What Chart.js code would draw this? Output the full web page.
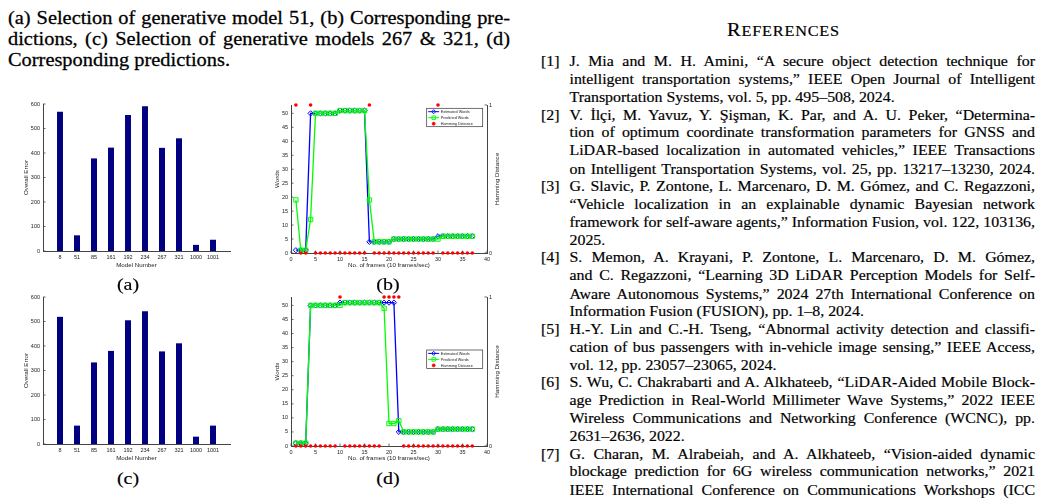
<!DOCTYPE html>
<html lang="en">
<head>
<meta charset="UTF-8">
<title>Generative model selection and predictions</title>
<script src="https://cdn.jsdelivr.net/npm/chart.js"></script>
<style>
  body {
    margin: 0;
    width: 1042px;
    height: 502px;
    position: relative;
    overflow: hidden;
    background: #fff;
    font-family: "Liberation Serif", "Times New Roman", serif;
    color: #000;
  }
  /* the page scan is a little squashed vertically */
  .sq {
    position: absolute;
    transform: scaleY(0.88);
    transform-origin: 0 0;
    font-family: "Liberation Serif", "Times New Roman", serif;
    -webkit-text-stroke: 0.2px #000;
  }
  .line { white-space: nowrap; }
  #caption { left: 8px; top: 8px; width: 502px; font-size: 20.4px; line-height: 23.75px; -webkit-text-stroke: 0.3px #000; }
  #refs { left: 541px; top: 52.7px; width: 494px; font-size: 15.9px; line-height: 20.28px; }
  #refs .line { position: relative; padding-left: 28.5px; }
  #refs .num { position: absolute; left: 0; }
  #heading { left: 683.5px; top: 19.4px; width: 200px; text-align: center; line-height: 24px; letter-spacing: 0.8px; }
  #heading .big { font-size: 20.4px; }
  #heading .small { font-size: 16.3px; }
  .panel { position: absolute; }
  .sub {
    position: absolute;
    font-family: "Liberation Serif", "Times New Roman", serif;
    font-size: 20px;
    line-height: 24px;
    -webkit-text-stroke: 0.2px #000;
    transform: translate(-50%, -50%) scaleY(0.88);
  }
</style>
</head>
<body>

<div id="caption" class="sq">
  <div class="line j"><span class="t">(a) Selection of generative model 51, (b) Corresponding pre-</span></div>
  <div class="line j"><span class="t">dictions, (c) Selection of generative models 267 &amp; 321, (d)</span></div>
  <div class="line"><span class="t">Corresponding predictions.</span></div>
</div>

<div id="heading" class="sq"><span class="big">R</span><span class="small">EFERENCES</span></div>

<div id="refs" class="sq">
  <div class="line j"><span class="num">[1]</span><span class="t">J. Mia and M. H. Amini, “A secure object detection technique for</span></div>
  <div class="line j"><span class="t">intelligent transportation systems,” IEEE Open Journal of Intelligent</span></div>
  <div class="line"><span class="t">Transportation Systems, vol. 5, pp. 495–508, 2024.</span></div>
  <div class="line j"><span class="num">[2]</span><span class="t">V. İlçi, M. Yavuz, Y. Şişman, K. Par, and A. U. Peker, “Determina-</span></div>
  <div class="line j"><span class="t">tion of optimum coordinate transformation parameters for GNSS and</span></div>
  <div class="line j"><span class="t">LiDAR-based localization in automated vehicles,” IEEE Transactions</span></div>
  <div class="line j"><span class="t">on Intelligent Transportation Systems, vol. 25, pp. 13217–13230, 2024.</span></div>
  <div class="line j"><span class="num">[3]</span><span class="t">G. Slavic, P. Zontone, L. Marcenaro, D. M. Gómez, and C. Regazzoni,</span></div>
  <div class="line j"><span class="t">“Vehicle localization in an explainable dynamic Bayesian network</span></div>
  <div class="line j"><span class="t">framework for self-aware agents,” Information Fusion, vol. 122, 103136,</span></div>
  <div class="line"><span class="t">2025.</span></div>
  <div class="line j"><span class="num">[4]</span><span class="t">S. Memon, A. Krayani, P. Zontone, L. Marcenaro, D. M. Gómez,</span></div>
  <div class="line j"><span class="t">and C. Regazzoni, “Learning 3D LiDAR Perception Models for Self-</span></div>
  <div class="line j"><span class="t">Aware Autonomous Systems,” 2024 27th International Conference on</span></div>
  <div class="line"><span class="t">Information Fusion (FUSION), pp. 1–8, 2024.</span></div>
  <div class="line j"><span class="num">[5]</span><span class="t">H.-Y. Lin and C.-H. Tseng, “Abnormal activity detection and classifi-</span></div>
  <div class="line j"><span class="t">cation of bus passengers with in-vehicle image sensing,” IEEE Access,</span></div>
  <div class="line"><span class="t">vol. 12, pp. 23057–23065, 2024.</span></div>
  <div class="line j"><span class="num">[6]</span><span class="t">S. Wu, C. Chakrabarti and A. Alkhateeb, “LiDAR-Aided Mobile Block-</span></div>
  <div class="line j"><span class="t">age Prediction in Real-World Millimeter Wave Systems,” 2022 IEEE</span></div>
  <div class="line j"><span class="t">Wireless Communications and Networking Conference (WCNC), pp.</span></div>
  <div class="line"><span class="t">2631–2636, 2022.</span></div>
  <div class="line j"><span class="num">[7]</span><span class="t">G. Charan, M. Alrabeiah, and A. Alkhateeb, “Vision-aided dynamic</span></div>
  <div class="line j"><span class="t">blockage prediction for 6G wireless communication networks,” 2021</span></div>
  <div class="line j"><span class="t">IEEE International Conference on Communications Workshops (ICC</span></div>
</div>

<div class="panel" style="left:0px;top:94px"><canvas id="chartA" width="250" height="175"></canvas></div>
<div class="panel" style="left:255px;top:95px"><canvas id="chartB" width="255" height="174"></canvas></div>
<div class="panel" style="left:0px;top:287px"><canvas id="chartC" width="250" height="175"></canvas></div>
<div class="panel" style="left:255px;top:287px"><canvas id="chartD" width="255" height="175"></canvas></div>

<div class="sub" style="left:128px;top:284px">(a)</div>
<div class="sub" style="left:388px;top:284px">(b)</div>
<div class="sub" style="left:128px;top:478px">(c)</div>
<div class="sub" style="left:388px;top:478px">(d)</div>

<script>
  // ---- data ----
  const models = ['8', '51', '85', '161', '192', '234', '267', '321', '1000', '1001'];
  const errorA = [568, 64, 378, 422, 555, 591, 421, 460, 25, 46];
  const errorC = [519, 75, 333, 380, 505, 542, 378, 411, 30, 75];

  const frames = [1, 2, 3, 4, 5, 6, 7, 8, 9, 10, 11, 12, 13, 14, 15, 16, 17, 18, 19,
                  20, 21, 22, 23, 24, 25, 26, 27, 28, 29, 30, 31, 32, 33, 34, 35, 36, 37];

  const estimatedB = [1, 1, 1, 50, 50, 50, 50, 50, 50, 51, 51, 51, 51, 51, 51, 4, 4, 4, 4,
                      4, 5, 5, 5, 5, 5, 5, 5, 5, 5, 6, 6, 6, 6, 6, 6, 6, 6];
  const predictedB = [19, 1, 1, 12, 50, 50, 50, 50, 50, 51, 51, 51, 51, 51, 51, 19, 4, 4, 4,
                      4, 5, 5, 5, 5, 5, 5, 5, 5, 5, 5, 6, 6, 6, 6, 6, 6, 6];
  const hammingB   = [1, 0, 0, 1, 0, 0, 0, 0, 0, 0, 0, 0, 0, 0, 0, 1, 0, 0, 0,
                      0, 0, 0, 0, 0, 0, 0, 0, 0, 0, 1, 0, 0, 0, 0, 0, 0, 0];

  const estimatedD = [1, 1, 1, 50, 50, 50, 50, 50, 50, 51, 51, 51, 51, 51, 51, 51, 51, 51, 51,
                      51, 51, 5, 5, 5, 5, 5, 5, 5, 5, 6, 6, 6, 6, 6, 6, 6, 6];
  const predictedD = [1, 1, 1, 50, 50, 50, 50, 50, 50, 50, 51, 51, 51, 51, 51, 51, 51, 51, 49,
                      8, 8, 9, 5, 5, 5, 5, 5, 5, 5, 6, 6, 6, 6, 6, 6, 6, 6];
  const hammingD   = [0, 0, 0, 0, 0, 0, 0, 0, 0, 1, 0, 0, 0, 0, 0, 0, 0, 0, 1,
                      1, 1, 1, 0, 0, 0, 0, 0, 0, 0, 0, 0, 0, 0, 0, 0, 0, 0];

  const ink = '#222';
  const axisColor = '#444';
  const tickFont = { family: 'Liberation Sans', size: 5.5 };
  const titleFont = { family: 'Liberation Sans', size: 6.2 };

  // stretch justified lines to the column width
  function justify() {
    document.querySelectorAll('.line.j .t').forEach(t => {
      const box = t.parentElement;
      const target = box.clientWidth - parseFloat(getComputedStyle(box).paddingLeft);
      const gaps = (t.textContent.match(/ /g) || []).length;
      t.style.wordSpacing = '0px';
      if (gaps) t.style.wordSpacing = ((target - t.getBoundingClientRect().width) / gaps) + 'px';
    });
  }
  justify();
  if (document.fonts) document.fonts.ready.then(justify);

  // MATLAB style ticks pointing into the plot
  const innerTicks = {
    id: 'innerTicks',
    afterDatasetsDraw(chart, args, opts) {
      const ctx = chart.ctx, a = chart.chartArea;
      ctx.save();
      ctx.strokeStyle = axisColor;
      ctx.lineWidth = 0.8;
      Object.values(chart.scales).forEach(s => {
        if (opts[s.id] === false) return;
        s.ticks.forEach((t, i) => {
          const p = s.getPixelForTick(i);
          ctx.beginPath();
          if (s.isHorizontal()) { ctx.moveTo(p, a.bottom); ctx.lineTo(p, a.bottom - 2.5); }
          else if (s.position === 'left') { ctx.moveTo(a.left, p); ctx.lineTo(a.left + 2.5, p); }
          else { ctx.moveTo(a.right, p); ctx.lineTo(a.right - 2.5, p); }
          ctx.stroke();
        });
      });
      ctx.restore();
    }
  };

  // right axis label, read bottom to top like the left one
  const rightTitle = {
    id: 'rightTitle',
    afterDraw(chart, args, opts) {
      const s = chart.scales.y1, ctx = chart.ctx;
      ctx.save();
      ctx.translate(s.right - 3.7, (s.top + s.bottom) / 2);
      ctx.rotate(-Math.PI / 2);
      ctx.font = titleFont.size + 'px "' + titleFont.family + '"';
      ctx.fillStyle = ink;
      ctx.textAlign = 'center';
      ctx.textBaseline = 'middle';
      ctx.fillText(opts.text, 0, 0);
      ctx.restore();
    }
  };

  // boxed legend inside the axes
  const boxLegend = {
    id: 'boxLegend',
    afterDraw(chart, args, opts) {
      const ctx = chart.ctx, a = chart.chartArea;
      const w = 56, h = 18.4;
      const x = a.right - opts.right - w, y = a.top + opts.top;
      ctx.save();
      ctx.fillStyle = '#fff';
      ctx.fillRect(x, y, w, h);
      ctx.strokeStyle = '#333';
      ctx.lineWidth = 0.7;
      ctx.strokeRect(x, y, w, h);
      ctx.font = '3.8px "Liberation Sans"';
      ctx.textBaseline = 'middle';
      chart.data.datasets.forEach((ds, i) => {
        const cy = y + 3.4 + i * 6;
        if (ds.showLine !== false) {
          ctx.strokeStyle = ds.borderColor;
          ctx.lineWidth = 1;
          ctx.beginPath();
          ctx.moveTo(x + 1.5, cy);
          ctx.lineTo(x + 12.5, cy);
          ctx.stroke();
        }
        ctx.strokeStyle = ds.pointBorderColor;
        ctx.fillStyle = ds.pointBackgroundColor;
        ctx.lineWidth = 0.9;
        if (Chart.helpers && Chart.helpers.drawPoint) {
          Chart.helpers.drawPoint(ctx, { pointStyle: ds.pointStyle, radius: ds.pointRadius * 0.8, rotation: 0, borderWidth: 0.9 }, x + 7, cy);
        }
        ctx.fillStyle = ink;
        ctx.fillText(ds.label, x + 14, cy + 0.2);
      });
      ctx.restore();
    }
  };

  function barChart(id, values) {
    return new Chart(document.getElementById(id), {
      type: 'bar',
      data: {
        // empty slots at both ends give the 0..11 x-limits of the original
        labels: ['', ...models, ''],
        datasets: [{
          data: [null, ...values, null],
          backgroundColor: '#000080',
          barPercentage: 0.35,
          categoryPercentage: 1
        }]
      },
      options: {
        responsive: false,
        animation: false,
        layout: { padding: { left: 23, top: 10, right: 20, bottom: 0 } },
        plugins: {
          legend: { display: false },
          tooltip: { enabled: false },
          innerTicks: { x: false }
        },
        scales: {
          x: {
            offset: false,
            grid: { display: false, drawTicks: false },
            border: { color: axisColor, width: 1 },
            ticks: { font: tickFont, color: ink, padding: 3, maxRotation: 0, autoSkip: false },
            title: { display: true, text: 'Model Number', font: titleFont, color: ink, padding: 0 },
            afterFit: s => { s.height = 18; }
          },
          y: {
            min: 0,
            max: 600,
            grid: { display: false, drawTicks: false },
            border: { color: axisColor, width: 1 },
            ticks: { stepSize: 100, font: tickFont, color: ink, padding: 3 },
            title: { display: true, text: 'Overall Error', font: titleFont, color: ink, padding: 0 },
            afterFit: s => { s.width = 20; }
          }
        }
      },
      plugins: [innerTicks]
    });
  }

  function wordsChart(id, estimated, predicted, hamming, legendTop) {
    const pts = arr => frames.map((f, i) => ({ x: f, y: arr[i] }));
    return new Chart(document.getElementById(id), {
      type: 'line',
      data: {
        datasets: [
          {
            label: 'Estimated Words',
            data: pts(estimated),
            yAxisID: 'y',
            borderColor: '#0000ff',
            borderWidth: 1.3,
            pointStyle: 'rectRot',
            pointRadius: 2.6,
            pointBorderWidth: 1,
            pointBorderColor: '#0000ff',
            pointBackgroundColor: 'rgba(255,255,255,0)',
            order: 3,
            clip: false
          },
          {
            label: 'Predicted Words',
            data: pts(predicted),
            yAxisID: 'y',
            borderColor: '#00ff00',
            borderWidth: 1.3,
            pointStyle: 'rect',
            pointRadius: 3.1,
            pointBorderWidth: 1,
            pointBorderColor: '#00ff00',
            pointBackgroundColor: 'rgba(255,255,255,0)',
            order: 2,
            clip: false
          },
          {
            label: 'Hamming Distance',
            data: pts(hamming),
            yAxisID: 'y1',
            showLine: false,
            pointStyle: 'circle',
            pointRadius: 1.8,
            pointBorderWidth: 0,
            pointBorderColor: '#ff0000',
            pointBackgroundColor: '#ff0000',
            order: 1,
            clip: false
          }
        ]
      },
      options: {
        responsive: false,
        animation: false,
        layout: { padding: { left: 19, top: 10, right: 9, bottom: 0 } },
        plugins: {
          legend: { display: false },
          tooltip: { enabled: false },
          boxLegend: { top: legendTop, right: 4.3 },
          rightTitle: { text: 'Hamming Distance' }
        },
        scales: {
          x: {
            type: 'linear',
            min: 0,
            max: 40,
            grid: { display: false, drawTicks: false },
            border: { color: axisColor, width: 1 },
            ticks: { stepSize: 5, font: tickFont, color: ink, padding: 3, maxRotation: 0 },
            title: { display: true, text: 'No. of frames (10 frames/sec)', font: titleFont, color: ink, padding: 0 },
            afterFit: s => { s.height = 16; }
          },
          y: {
            position: 'left',
            min: 0,
            max: 53,
            grid: { display: false, drawTicks: false },
            border: { color: axisColor, width: 1 },
            ticks: { stepSize: 5, includeBounds: false, font: tickFont, color: ink, padding: 3 },
            title: { display: true, text: 'Words', font: titleFont, color: ink, padding: 0 },
            afterFit: s => { s.width = 17; }
          },
          y1: {
            position: 'right',
            min: 0,
            max: 1,
            grid: { display: false, drawTicks: false },
            border: { color: axisColor, width: 1 },
            ticks: { stepSize: 1, font: tickFont, color: ink, padding: 2 },
            afterFit: s => { s.width = 14; }
          }
        }
      },
      plugins: [innerTicks, boxLegend, rightTitle]
    });
  }

  barChart('chartA', errorA);
  wordsChart('chartB', estimatedB, predictedB, hammingB, 3.3);
  barChart('chartC', errorC);
  wordsChart('chartD', estimatedD, predictedD, hammingD, 53);
</script>
</body>
</html>
